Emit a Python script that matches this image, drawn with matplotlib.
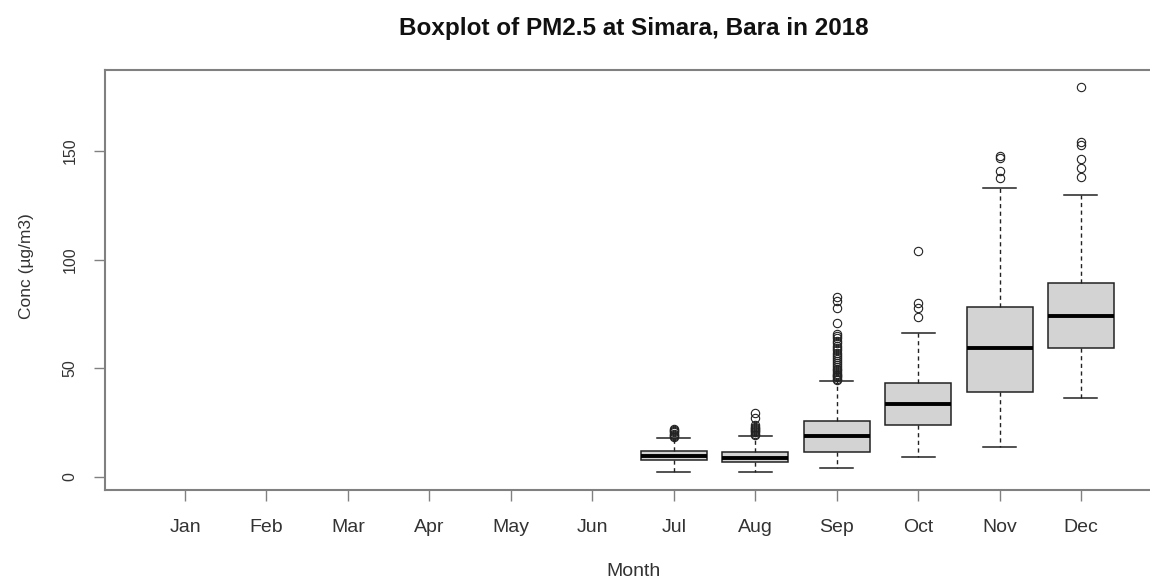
import matplotlib
matplotlib.use("Agg")
import matplotlib.pyplot as plt

plt.rcParams['font.family'] = ['Liberation Sans', 'DejaVu Sans']

months = ["Jan", "Feb", "Mar", "Apr", "May", "Jun",
          "Jul", "Aug", "Sep", "Oct", "Nov", "Dec"]

# statistics for months with data (Jul..Dec)
data_months = ["Jul", "Aug", "Sep", "Oct", "Nov", "Dec"]
whislo = [2.4, 2.4, 4.3, 9.1, 13.7, 36.2]
q1 = [7.8, 6.8, 11.7, 23.9, 39.3, 59.5]
med = [9.7, 8.6, 18.9, 33.4, 59.2, 74.1]
q3 = [12.1, 11.7, 25.8, 43.1, 78.1, 89.1]
whishi = [17.8, 19.0, 44.2, 66.1, 133.1, 129.8]
fliers_jul = [18.5, 19.0, 19.5, 20.0, 20.5, 21.0, 21.5, 22.0]
fliers_aug = [19.5, 20.0, 20.5, 21.0, 21.5, 22.0, 22.5, 23.0, 24.0, 27.0, 29.3]
fliers_sep = [44.8, 45.3, 45.8, 46.4, 47.0, 47.6, 48.3, 49.0, 49.8, 50.6, 51.5,
              52.4, 53.3, 54.2, 55.2, 56.2, 57.2, 58.3, 59.4, 60.5, 61.6, 62.7,
              63.8, 65.0, 66.0, 70.7, 77.6, 81.0, 83.0]
fliers_oct = [73.8, 77.6, 79.9, 104.1]
fliers_nov = [137.4, 140.8, 147.0, 147.6]
fliers_dec = [138.2, 142.1, 146.3, 152.8, 154.3, 179.6]
fliers = [fliers_jul, fliers_aug, fliers_sep, fliers_oct, fliers_nov, fliers_dec]

title = "Boxplot of PM2.5 at Simara, Bara in 2018"
xlabel = "Month"
ylabel = "Conc (\u00b5g/m3)"
yticks = [0, 50, 100, 150]

fig = plt.figure(figsize=(11.5, 5.83), dpi=100)
W, H = 1150, 583
left_px, right_px = 105.2, 1160.8
top_px, bot_px = 70, 490
ax = fig.add_axes([left_px / W, (H - bot_px) / H,
                   (right_px - left_px) / W, (bot_px - top_px) / H])

stats = []
for i in range(len(data_months)):
    stats.append(dict(label=data_months[i], whislo=whislo[i], q1=q1[i],
                      med=med[i], q3=q3[i], whishi=whishi[i],
                      fliers=fliers[i]))
positions = [months.index(m) + 1 for m in data_months]

ax.bxp(stats, positions=positions, widths=0.81, patch_artist=True,
       manage_ticks=False,
       boxprops=dict(facecolor='#d3d3d3', edgecolor='#222222', linewidth=1.1),
       medianprops=dict(color='black', linewidth=2.8, solid_capstyle='butt'),
       whiskerprops=dict(color='#222222', linewidth=1.0, linestyle=(0, (3, 2.5))),
       capprops=dict(color='#222222', linewidth=1.1),
       capwidths=0.405,
       flierprops=dict(marker='o', markerfacecolor='none',
                       markeredgecolor='#222222', markersize=6.0,
                       markeredgewidth=0.8, linestyle='none'))

ax.set_xlim(0.02, 12.98)
ax.set_ylim(-6.0, 187.3)

ax.set_xticks(range(1, 13))
ax.set_xticklabels(months)
ax.set_yticks(yticks)
ax.set_yticklabels([str(v) for v in yticks], rotation=90, va='center')

for s in ax.spines.values():
    s.set_color('#808080')
    s.set_linewidth(1.5)

ax.tick_params(axis='both', direction='out', length=8, width=1.0,
               colors='#808080', labelcolor='#333333')
ax.tick_params(axis='x', pad=13, labelsize=14)
ax.tick_params(axis='y', pad=12, labelsize=11.5)

fig.text(633.7 / W, (H - 28) / H, title, ha='center', va='center',
         fontsize=17.5, fontweight='bold', color='#111111')
fig.text(633.7 / W, (H - 572) / H, xlabel, ha='center', va='center',
         fontsize=14, color='#333333')
fig.text(27 / W, (H - 266) / H, ylabel, ha='center', va='center',
         rotation=90, fontsize=12.5, color='#333333')

fig.savefig("out.png", dpi=100)
